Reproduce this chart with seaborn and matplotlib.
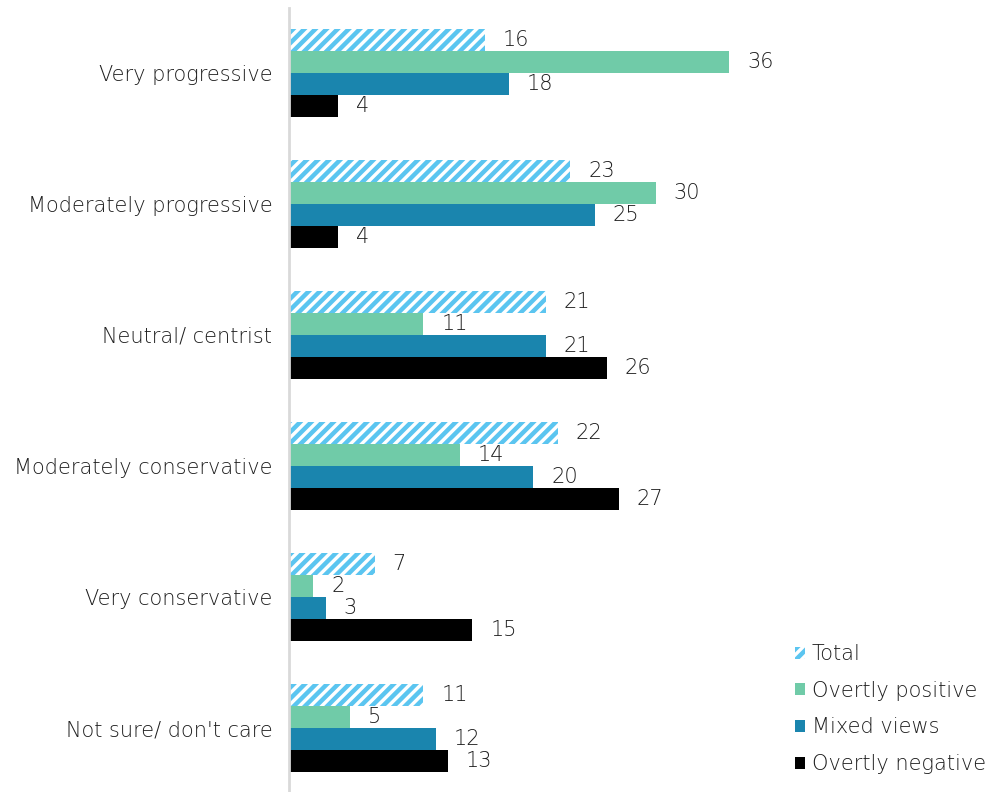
import matplotlib
matplotlib.use("Agg")
import matplotlib.pyplot as plt
from matplotlib.patches import Patch
import pandas as pd
import seaborn as sns

categories = [
    "Very progressive",
    "Moderately progressive",
    "Neutral/ centrist",
    "Moderately conservative",
    "Very conservative",
    "Not sure/ don't care",
]
series_names = ["Total", "Overtly positive", "Mixed views", "Overtly negative"]
total = [16, 23, 21, 22, 7, 11]
overtly_positive = [36, 30, 11, 14, 2, 5]
mixed_views = [18, 25, 21, 20, 3, 12]
overtly_negative = [4, 4, 26, 27, 15, 13]

colors = {
    "Total": "#FFFFFF",
    "Overtly positive": "#70CBA8",
    "Mixed views": "#1A85AE",
    "Overtly negative": "#000000",
}
hatch_color = "#5BC5F0"
text_color = "#1E1E1E"

rows = []
for name, vals in zip(series_names, [total, overtly_positive, mixed_views, overtly_negative]):
    for cat, v in zip(categories, vals):
        rows.append({"category": cat, "series": name, "value": v})
df = pd.DataFrame(rows)

sns.set_style("white")
plt.rcParams["font.family"] = ["DejaVu Sans"]
plt.rcParams["font.weight"] = "light"
plt.rcParams["hatch.linewidth"] = 3.2

fs = 15

fig = plt.figure(figsize=(9.91, 7.92), dpi=100)
ax = fig.add_axes([289 / 991, -1.5 / 792, 1 - 289 / 991, 1 - 6 / 792])

sns.barplot(
    data=df, y="category", x="value", hue="series",
    order=categories, hue_order=series_names, palette=colors,
    orient="h", width=0.672, ax=ax, legend=False, saturation=1,
    linewidth=0,
)

# hatched white bars for the Total series
for bar in ax.containers[0]:
    bar.set_facecolor("white")
    bar.set_edgecolor(hatch_color)
    bar.set_hatch("///")
    bar.set_linewidth(0)

for cont in ax.containers:
    ax.bar_label(cont, labels=[f"{int(v)}" for v in cont.datavalues],
                 padding=13, fontsize=fs, color=text_color)

ax.set_xlim(0, (991 - 289) / 12.22)
ax.set_ylim(5.5, -0.5)
ax.set_xlabel("")
ax.set_ylabel("")
ax.set_xticks([])
ax.tick_params(axis="y", length=0, pad=12, labelsize=fs, labelcolor=text_color)
for side in ["top", "right", "bottom"]:
    ax.spines[side].set_visible(False)
ax.spines["left"].set_color("#D9D9D9")
ax.spines["left"].set_linewidth(2)

handles = [
    Patch(facecolor="white", edgecolor=hatch_color, hatch="///", linewidth=0, label="Total"),
    Patch(facecolor=colors["Overtly positive"], linewidth=0, label="Overtly positive"),
    Patch(facecolor=colors["Mixed views"], linewidth=0, label="Mixed views"),
    Patch(facecolor=colors["Overtly negative"], linewidth=0, label="Overtly negative"),
]
fig.legend(handles=handles, loc="upper left", bbox_to_anchor=(795 / 991, 1 - 644 / 792),
           frameon=False, fontsize=fs, labelcolor=text_color,
           handlelength=0.5, handleheight=0.5, handletextpad=0.3,
           labelspacing=0.8, borderaxespad=0, borderpad=0)

fig.savefig("out.png", dpi=100)
